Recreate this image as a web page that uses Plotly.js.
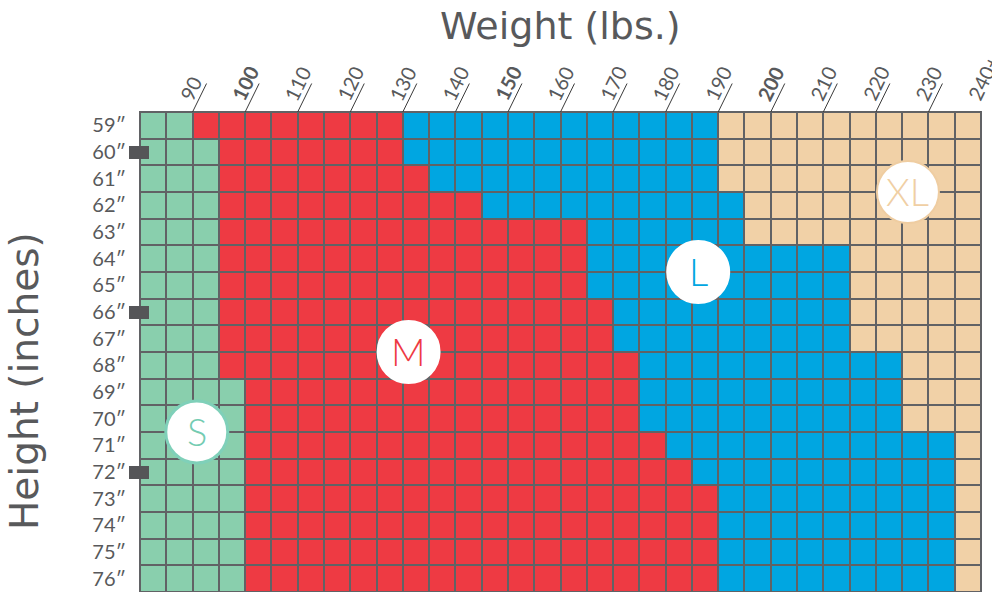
<!DOCTYPE html>
<html>
<head>
<meta charset="utf-8">
<script src="https://cdn.plot.ly/plotly-3.0.1.min.js"></script>
<style>
  html, body { margin: 0; padding: 0; background: #ffffff; }
  #chart { width: 992px; height: 592px; }
</style>
</head>
<body>
<div id="chart"></div>
<script>
// ---- data ----
const heights = [59, 60, 61, 62, 63, 64, 65, 66, 67, 68, 69, 70, 71, 72, 73, 74, 75, 76];
// weight bin edges (lbs), 5-lb columns
const weightEdges = [80, 85, 90, 95, 100, 105, 110, 115, 120, 125, 130, 135, 140, 145, 150, 155, 160,
                     165, 170, 175, 180, 185, 190, 195, 200, 205, 210, 215, 220, 225, 230, 235, 240];
// upper weight limit (exclusive) of each size, per height row
const sizeS_upTo  = [90, 95, 95, 95, 95, 95, 95, 95, 95, 95, 100, 100, 100, 100, 100, 100, 100, 100];
const sizeM_upTo  = [130, 130, 135, 145, 165, 165, 165, 170, 170, 175, 175, 175, 180, 185, 190, 190, 190, 190];
const sizeL_upTo  = [190, 190, 190, 195, 195, 215, 215, 215, 215, 225, 225, 225, 235, 235, 235, 235, 235, 235];
const sizeNames = ['S', 'M', 'L', 'XL'];
const tickVals = [90, 100, 110, 120, 130, 140, 150, 160, 170, 180, 190, 200, 210, 220, 230, 240];
const tickText = ['90', '<b>100</b>', '110', '120', '130', '140', '<b>150</b>', '160', '170', '180', '190',
                  '<b>200</b>', '210', '220', '230', '240+'];
const markedHeights = [60, 66, 72];

// ---- styles ----
const sizeColors = ['#89CFAD', '#EE3A43', '#00A6E1', '#F1D1A7'];
const badgeText = ['#74CCB2', '#EE3A43', '#00A6E1', '#F0CFA4'];
const badgeLine = ['#7FD0B9', '#FFFFFF', '#FFFFFF', '#EFCDA1'];
const gridColor = '#616265';
const textColor = '#58595B';
const FONT = 'Lato, "Open Sans", sans-serif';
const TITLE_FONT = '"DejaVu Sans", sans-serif';

// ---- build z matrix ----
const z = heights.map((h, i) => weightEdges.slice(0, -1).map(w => {
  if (w < sizeS_upTo[i]) return 0;
  if (w < sizeM_upTo[i]) return 1;
  if (w < sizeL_upTo[i]) return 2;
  return 3;
}));
const textMatrix = z.map(r => r.map(v => sizeNames[v]));

const yMin = 58.5, yMax = 76.5;

const trace = {
  type: 'heatmap',
  x: weightEdges,
  y: heights,
  z: z,
  text: textMatrix,
  zmin: 0, zmax: 3,
  colorscale: [[0, sizeColors[0]], [0.25, sizeColors[0]], [0.25, sizeColors[1]], [0.5, sizeColors[1]],
               [0.5, sizeColors[2]], [0.75, sizeColors[2]], [0.75, sizeColors[3]], [1, sizeColors[3]]],
  showscale: false,
  xgap: 2, ygap: 2,
  hovertemplate: '%{y}″, %{x} lbs: %{text}<extra></extra>'
};

const shapes = [];
const annotations = [];

// outer border
shapes.push({type: 'rect', xref: 'paper', yref: 'paper', x0: 0, x1: 1, y0: 0, y1: 1,
             line: {color: gridColor, width: 2}, layer: 'above'});

// slanted tick lines + labels at top
tickVals.forEach((v, k) => {
  shapes.push({type: 'line', xref: 'x', yref: 'paper', xsizemode: 'pixel', ysizemode: 'pixel',
               xanchor: v, yanchor: 1, x0: 0, x1: 14, y0: 0, y1: 28.5,
               line: {color: '#3a3a3a', width: 1}});
  annotations.push({x: v, y: 1, xref: 'x', yref: 'paper', xanchor: 'left', yanchor: 'bottom',
                    text: tickText[k], showarrow: false, textangle: -64, xshift: -21, yshift: 5,
                    font: {family: FONT, size: 20, color: textColor}});
});

// marker rectangles on the left edge (domain refs so they are not clipped; axis is reversed)
markedHeights.forEach(h => {
  shapes.push({type: 'rect', xref: 'x domain', yref: 'y domain', xsizemode: 'pixel', ysizemode: 'pixel',
               xanchor: 0, yanchor: (yMax - h) / (yMax - yMin), x0: -11, x1: 9, y0: -7, y1: 6,
               fillcolor: '#555558', line: {width: 0}, layer: 'above'});
});

// size badges
const badges = [
  {k: 0, x: 90.8, y: 70.5},
  {k: 1, x: 131.1, y: 67.5},
  {k: 2, x: 186.2, y: 64.5},
  {k: 3, x: 226.1, y: 61.5}
];
badges.forEach(b => {
  shapes.push({type: 'circle', xref: 'x', yref: 'y', xsizemode: 'pixel', ysizemode: 'pixel',
               xanchor: b.x, yanchor: b.y, x0: -31, x1: 31, y0: -31, y1: 31,
               fillcolor: '#FFFFFF', line: {color: badgeLine[b.k], width: b.k === 0 ? 3 : 2}, layer: 'above'});
  annotations.push({x: b.x, y: b.y, xref: 'x', yref: 'y', text: sizeNames[b.k], showarrow: false,
                    xanchor: 'center', yanchor: 'middle', yshift: 1,
                    font: {family: FONT, size: 38, color: badgeText[b.k], weight: 300}});
});

// x title (top)
annotations.push({x: 0.5, y: 1, xref: 'paper', yref: 'paper', xanchor: 'center', yanchor: 'middle',
                  yshift: 86, text: 'Weight (lbs.)', showarrow: false,
                  font: {family: TITLE_FONT, size: 38, color: textColor}});
// y title
annotations.push({x: 0, y: 0.5, xref: 'paper', yref: 'paper', xanchor: 'center', yanchor: 'middle',
                  xshift: -116, yshift: -29, textangle: -90, text: 'Height (inches)', showarrow: false,
                  font: {family: TITLE_FONT, size: 39, color: textColor}});

const layout = {
  width: 992, height: 592,
  margin: {l: 140, r: 11, t: 112, b: 0, pad: 0},
  paper_bgcolor: '#FFFFFF',
  plot_bgcolor: gridColor,
  xaxis: {range: [80, 240], showticklabels: false, ticks: '', showgrid: false, zeroline: false,
          showline: false, fixedrange: true},
  yaxis: {range: [yMax, yMin], tickvals: heights, ticktext: heights.map(h => h + '\u2033'),
          ticks: 'outside', ticklen: 9, tickcolor: 'rgba(0,0,0,0)', showgrid: false, zeroline: false,
          showline: false, fixedrange: true,
          tickfont: {family: FONT, size: 20, color: textColor}},
  shapes: shapes,
  annotations: annotations,
  showlegend: false
};

Plotly.newPlot('chart', [trace], layout, {displayModeBar: false, staticPlot: true});
</script>
</body>
</html>
